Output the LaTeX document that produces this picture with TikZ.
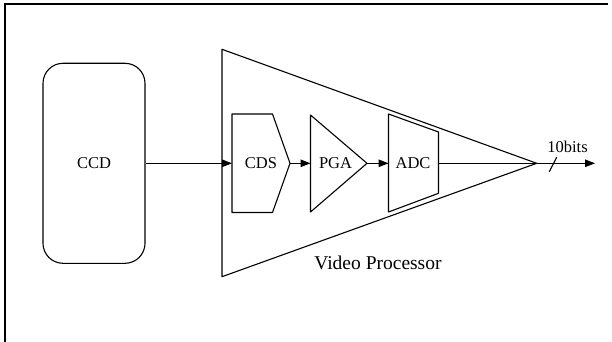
\documentclass[tikz,border=0pt]{standalone}
\usepackage{fontspec}
\setmainfont{Liberation Serif}
\usetikzlibrary{arrows.meta,positioning,calc}
\tikzset{
  blk/.style={draw,line width=1.1pt,line join=round},
  ccdbox/.style={blk,rounded corners=20pt,minimum width=102pt,minimum height=200pt},
  lbl/.style={font=\fontsize{16.5}{18}\selectfont,inner sep=0pt},
  wire/.style={line width=1.1pt},
  sig/.style={wire,-{Triangle[length=10pt,width=7.5pt]}},
}

\begin{document}
\begin{tikzpicture}[x=1pt,y=-1pt]
  \useasboundingbox (0,0) rectangle (612,342);
  % open frame
  \draw[wire] (5,342) -- (5,4) -- (608,4);

  \node[ccdbox,lbl] (ccd) at (94,163.3) {CCD};

  % video processor outline
  \coordinate (vpt) at (222,49.3);
  \coordinate (vpb) at (222,276.7);
  \coordinate (apex) at (536.7,163.3);
  \draw[blk] (vpt) -- (apex) -- (vpb) -- cycle;
  \node[lbl,font=\fontsize{19.5}{21}\selectfont] (vp) at (378,263) {Video Processor};

  % CDS
  \coordinate (cdsin) at (232,163.3);
  \coordinate (cdsout) at (290,163.3);
  \draw[blk] (232,114) -- (272.5,114) -- (cdsout) -- (272.5,212.5)
    -- (232,212.5) -- cycle;
  \node[lbl] (cds) at (261,163.3) {CDS};

  % PGA
  \coordinate (pgain) at (310.5,163.3);
  \coordinate (pgaout) at (367,163.3);
  \draw[blk] (310.5,115) -- (pgaout) -- (310.5,212) -- cycle;
  \node[lbl] (pga) at (335.5,163.3) {PGA};

  % ADC
  \coordinate (adcin) at (388.5,163.3);
  \coordinate (adcout) at (438.5,163.3);
  \draw[blk] (388.5,114) -- (438.5,132) -- (438.5,193.3) -- (388.5,212)
    -- cycle;
  \node[lbl] (adc) at (413,163.3) {ADC};

  % signal path
  \coordinate (out) at (595,163.3);
  \draw[sig] (ccd.east) -- (cdsin);
  \draw[sig] (cdsout) -- (pgain);
  \draw[sig] (pgaout) -- (adcin);
  \draw[wire] (adcout) -- (apex);
  \draw[sig] (apex) -- (out);
  \draw[wire] (549.3,171.7) -- (556.7,157.3);
  \node[lbl] (bits) at (567.5,146.7) {10bits};
\end{tikzpicture}
\end{document}
